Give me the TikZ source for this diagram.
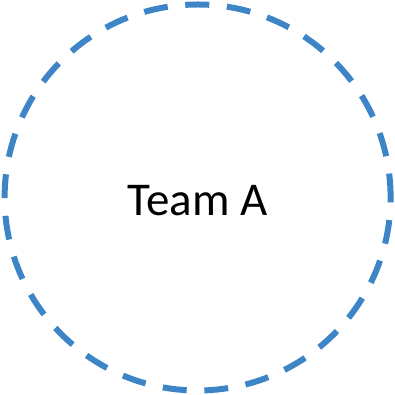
\documentclass[tikz,border=0pt]{standalone}
\usepackage{fontspec}
\setmainfont{Carlito}
\definecolor{ringblue}{RGB}{61,133,198}

\begin{document}
\begin{tikzpicture}[x=1pt, y=1pt]
    \useasboundingbox (0, 0) rectangle (394, 395);
    
    \coordinate (c) at (197.6, 197.5);
    \draw [ringblue, line width=6pt, dash pattern=on 24pt off 17.65pt] (c) circle (193);
    
    \node [anchor=base, inner sep=0pt, font=\fontsize{47}{56}\selectfont] (teamA) at (197.6, 179) {Team A};
\end{tikzpicture}
\end{document}
